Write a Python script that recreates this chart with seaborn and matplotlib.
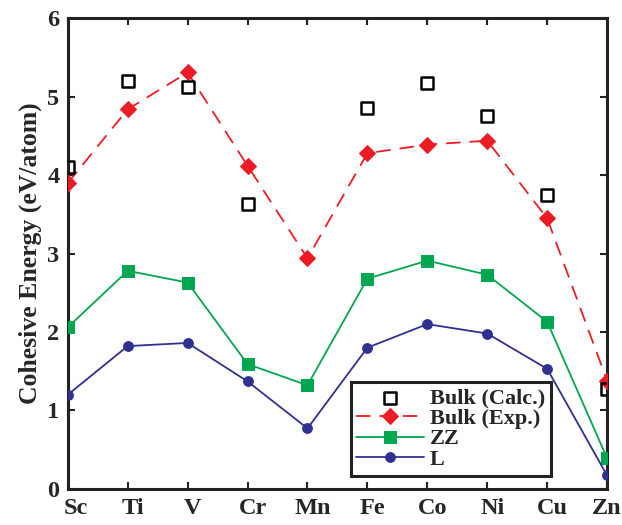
import numpy as np
import pandas as pd
import matplotlib
matplotlib.use("Agg")
import matplotlib.pyplot as plt
import matplotlib.transforms as mtransforms
import seaborn as sns

elements = ["Sc", "Ti", "V", "Cr", "Mn", "Fe", "Co", "Ni", "Cu", "Zn"]
bulk_calc = [4.11, 5.20, 5.13, 3.63, np.nan, 4.86, 5.18, 4.75, 3.75, 1.27]
bulk_exp = [3.90, 4.84, 5.31, 4.12, 2.94, 4.28, 4.39, 4.44, 3.45, 1.38]
zz = [2.06, 2.78, 2.63, 1.59, 1.32, 2.68, 2.91, 2.73, 2.13, 0.39]
lchain = [1.20, 1.82, 1.86, 1.37, 0.77, 1.80, 2.10, 1.98, 1.53, 0.17]
y_ticks = [0, 1, 2, 3, 4, 5, 6]

sns.set_theme(style="white")
plt.rcParams["font.family"] = ["Liberation Serif", "DejaVu Serif"]
plt.rcParams["font.weight"] = "bold"

pos = np.arange(len(elements))
df = pd.DataFrame({"pos": pos, "calc": bulk_calc, "exp": bulk_exp,
                   "zz": zz, "l": lchain})

fig = plt.figure(figsize=(6.22, 5.25), dpi=100)
ax = fig.add_axes([0.109, 0.069, 0.867, 0.896])

red = "#ed1c24"
green = "#00a650"
blue = "#2e3192"

sns.scatterplot(data=df, x="pos", y="calc", ax=ax, marker="s", s=75,
                facecolor="none", edgecolor="black", linewidth=1.8,
                label="Bulk (Calc.)", zorder=5)
sns.lineplot(data=df, x="pos", y="exp", ax=ax, color=red, linewidth=1.3,
             linestyle=(0, (8, 5)), marker="D", markersize=8,
             markeredgecolor=red, label="Bulk (Exp.)", zorder=4)
sns.lineplot(data=df, x="pos", y="zz", ax=ax, color=green, linewidth=1.3,
             marker="s", markersize=8, markeredgecolor=green,
             label="ZZ", zorder=3)
sns.lineplot(data=df, x="pos", y="l", ax=ax, color=blue, linewidth=1.3,
             marker="o", markersize=7, markeredgecolor=blue,
             label="L", zorder=3)

ax.set_xlim(0, len(elements) - 1)
ax.set_ylim(0, 6)
ax.set_xticks(pos)
ax.set_xticklabels(elements)
ax.set_yticks(y_ticks)
ax.set_xlabel("")
ax.set_ylabel("Cohesive Energy (eV/atom)", fontsize=18.5, fontweight="bold",
              labelpad=4)
ax.tick_params(axis="both", direction="in", length=5, width=1.5,
               labelsize=17.5, top=True, right=True, bottom=True, left=True,
               color="#222222")
ax.tick_params(axis="x", pad=7)
ax.tick_params(axis="y", pad=6)
for lab in ax.get_xticklabels() + ax.get_yticklabels():
    lab.set_fontweight("bold")

# nudge the element labels slightly to the right of their ticks
shifts = [8] + [5] * (len(elements) - 2) + [0]
for lab, dx in zip(ax.get_xticklabels(), shifts):
    lab.set_transform(lab.get_transform() +
                      mtransforms.ScaledTranslation(dx / 100, 0,
                                                    fig.dpi_scale_trans))

for sp in ax.spines.values():
    sp.set_linewidth(2.2)
    sp.set_color("#222222")

leg = ax.legend(loc="lower left", bbox_to_anchor=(0.525, 0.028),
                prop={"size": 16, "weight": "bold"}, frameon=True,
                fancybox=False, borderpad=0.25, labelspacing=0.0,
                handlelength=3.05, handletextpad=0.25, borderaxespad=0)
leg.get_frame().set_edgecolor("#222222")
leg.get_frame().set_linewidth(2.2)
leg.get_frame().set_facecolor("white")
leg.get_frame().set_alpha(1)
leg.set_zorder(10)

fig.savefig("out.png", dpi=100)
